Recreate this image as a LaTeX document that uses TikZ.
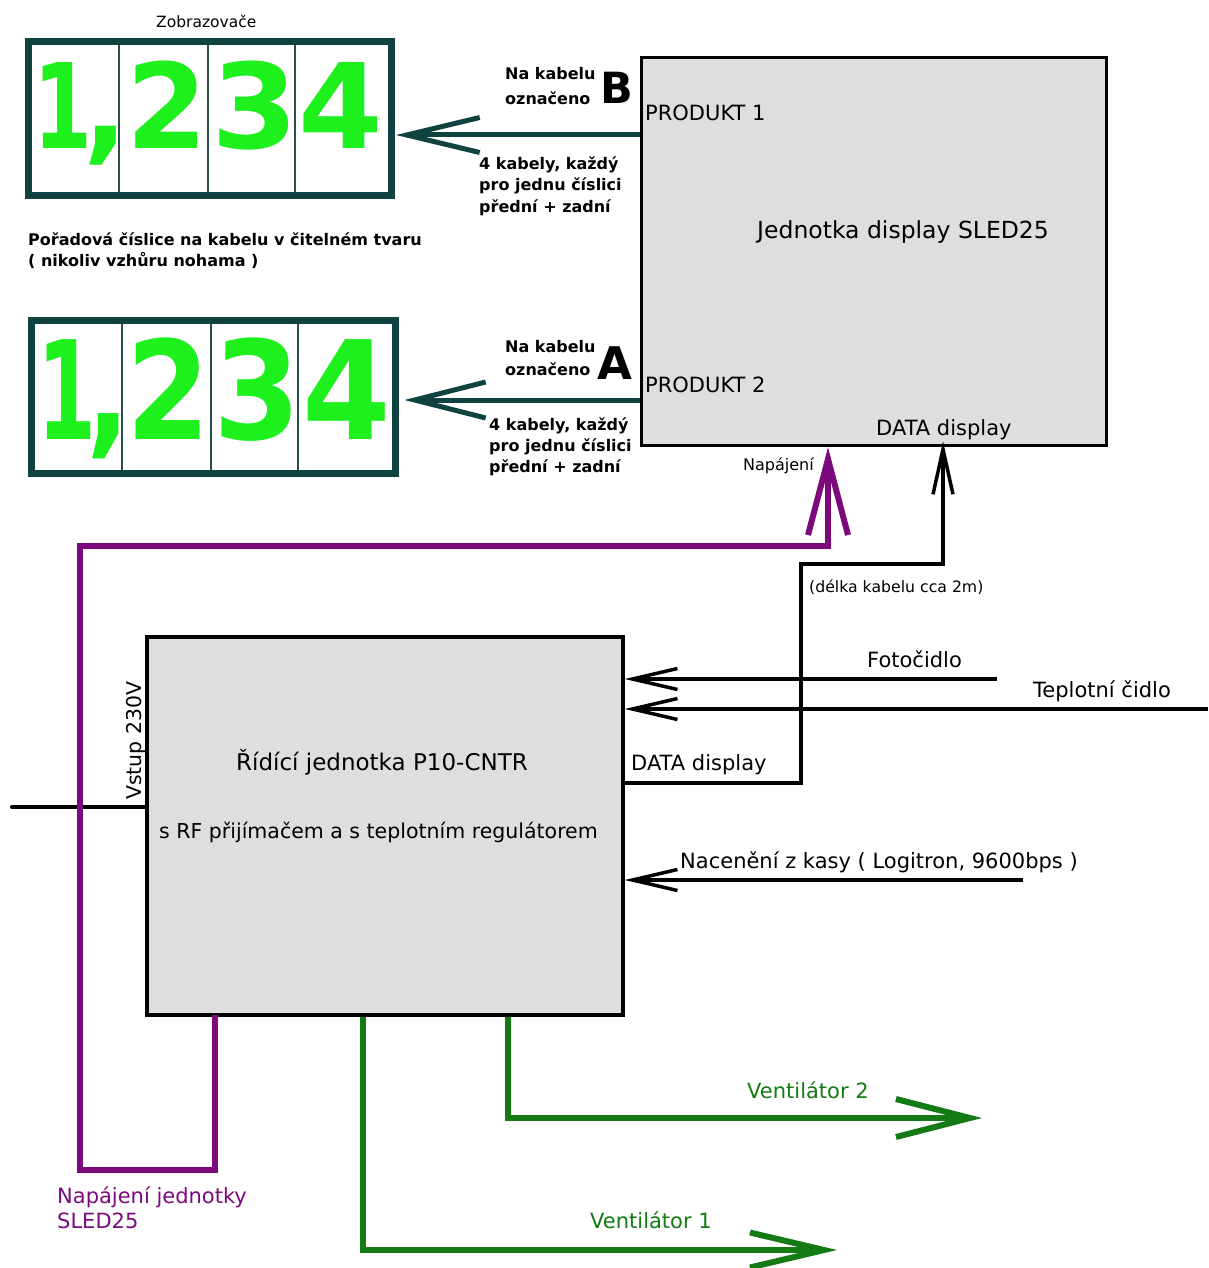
\documentclass[tikz,border=0pt]{standalone}
\usepackage{fontspec}
\setmainfont{DejaVu Sans}
\usepackage{graphicx}
\usetikzlibrary{arrows.meta}
\newcommand\fsz[1]{\fontsize{#1}{#1}\selectfont}
\newcommand\sx[2]{\scalebox{#1}[1]{#2}}
\definecolor{dteal}{RGB}{16,66,66}
\definecolor{lgreen}{RGB}{30,240,30}
\definecolor{purp}{RGB}{125,10,125}
\definecolor{dgreen}{RGB}{20,122,20}
\definecolor{boxgray}{RGB}{222,222,222}
\begin{document}
\begin{tikzpicture}[x=1pt,y=-1pt,
  dispframe/.style={draw=dteal,line width=7pt,fill=white,inner sep=0pt,minimum width=363pt,minimum height=154pt},
  unitbox/.style={draw=black,line width=3.5pt,fill=boxgray,inner sep=0pt},
  divider/.style={draw=dteal!80!gray,line width=1.5pt},
  digA/.style={inner sep=0pt,anchor=base,text=lgreen,font=\bfseries\fsz{118}},
  digB/.style={inner sep=0pt,anchor=base,text=lgreen,font=\bfseries\fsz{137}},
  lbl/.style={inner sep=0pt,anchor=base west,font=\fsz{21}},
  blbl/.style={inner sep=0pt,anchor=base west,font=\bfseries\fsz{16}},
  tealarrow/.style={draw=dteal,line width=5pt},
  purpline/.style={draw=purp,line width=6pt},
  blkline/.style={draw=black,line width=3.5pt},
  grnline/.style={draw=dgreen,line width=6pt}
]
\useasboundingbox (0,0) rectangle (1208,1268);
\fill[white] (0,0) rectangle (1208,1268);

% ---- displays ----
\node[dispframe] (d1) at (210,118.75) {};
\node[dispframe,minimum height=153.5pt,minimum width=363.5pt] (d2) at (213.25,396.75) {};
\draw[divider] (119,45) -- (119,193);
\draw[divider] (208,45) -- (208,193);
\draw[divider] (295,45) -- (295,193);
\draw[divider] (122,323) -- (122,470);
\draw[divider] (211,323) -- (211,470);
\draw[divider] (298,323) -- (298,470);

\node[digA] (a1) at (63,149) {\sx{0.72}{1}};
\node[digA] (ac) at (106,149) {\sx{1.0}{,}};
\node[digA] (a2) at (167,149) {\sx{0.99}{2}};
\node[digA] (a3) at (255,149) {\sx{1.06}{3}};
\node[digA] (a4) at (341,149) {\sx{1.03}{4}};
\node[digB] (b1) at (67,439) {\sx{0.62}{1}};
\node[digB] (bc) at (109,439) {\sx{0.85}{,}};
\node[digB] (b2) at (168,439) {\sx{0.88}{2}};
\node[digB] (b3) at (257,439) {\sx{0.92}{3}};
\node[digB] (b4) at (347,439) {\sx{0.93}{4}};

\node[lbl,font=\fsz{15.5}] (zob) at (156,28) {Zobrazovače};
\node[blbl,font=\bfseries\fsz{16}] (por1) at (28,245) {Pořadová číslice na kabelu v čitelném tvaru};
\node[blbl,font=\bfseries\fsz{16}] (por2) at (28,266) {( nikoliv vzhůru nohama )};

% ---- units ----
\node[unitbox,minimum width=465pt,minimum height=388pt] (sled) at (874,251.5) {};
\node[unitbox,minimum width=476pt,minimum height=378pt] (p10) at (385,826) {};

\node[lbl] (prod1) at (645,121) {PRODUKT 1};
\node[lbl] (prod2) at (645,392) {PRODUKT 2};
\node[lbl,font=\fsz{23.5}] (sledt) at (757,238) {Jednotka display SLED25};
\node[lbl] (datat) at (876,435) {DATA display};

\node[lbl,font=\fsz{23}] (p10t) at (236,770) {Řídící jednotka P10-CNTR};
\node[lbl,font=\fsz{20.5}] (p10s) at (159,838) {s RF přijímačem a s teplotním regulátorem};
\node[lbl] (datap) at (631,770) {DATA display};
\node[lbl,font=\fsz{20.4},rotate=90] (vstup) at (141,800) {Vstup 230V};

% ---- cable labels ----
\node[blbl] (nkB1) at (505,80) {Na kabelu};
\node[blbl] (nkB2) at (505,105) {označeno};
\node[blbl,font=\bfseries\fsz{43}] (lB) at (600,104) {B};
\node[blbl] (kB1) at (479,170) {4 kabely, každý};
\node[blbl] (kB2) at (479,191) {pro jednu číslici};
\node[blbl] (kB3) at (479,212) {přední + zadní};
\node[blbl] (nkA1) at (505,352) {Na kabelu};
\node[blbl] (nkA2) at (505,375) {označeno};
\node[blbl,font=\bfseries\fsz{45}] (lA) at (597,379) {A};
\node[blbl] (kA1) at (489,430) {4 kabely, každý};
\node[blbl] (kA2) at (489,451) {pro jednu číslici};
\node[blbl] (kA3) at (489,472) {přední + zadní};

% ---- coordinates ----
\coordinate (yB) at (0,135);
\coordinate (yA) at (0,400);
\coordinate (pw0) at (215,1170);
\coordinate (pw1) at (80,1170);
\coordinate (pw2) at (828,546);
\coordinate (dt0) at (801,783);
\coordinate (dt1) at (943,564);
\coordinate (foto) at (997,679);
\coordinate (tepl) at (1208,709);
\coordinate (nac) at (1023,880);
\coordinate (v230) at (12,807);
\coordinate (v2) at (982,1118);
\coordinate (v1) at (837,1250);
\coordinate (v2x) at (508,1118);
\coordinate (v1x) at (363,1250);

% ---- display cables ----
\draw[tealarrow,-{Straight Barb[length=73pt,width=35pt]}] (sled.west |- yB) -- ([xshift=1pt]d1.east |- yB);
\draw[tealarrow,-{Straight Barb[length=71pt,width=36pt]}] (sled.west |- yA) -- ([xshift=6pt]d2.east |- yA);

% ---- 230V input ----
\draw[blkline,line width=4pt,line cap=round] (v230) -- (p10.west |- v230);

% ---- power to SLED25 ----
\draw[purpline,-{Straight Barb[length=76pt,width=40pt]}] ([yshift=2pt]p10.south -| pw0) -- (pw0) -- (pw1) -- (pw1 |- pw2) -- (pw2) -- (sled.south -| pw2);
\node[lbl,font=\fsz{16}] (napt) at (743,470) {Napájení};
\node[lbl,text=purp] (nj1) at (57,1203) {Napájení jednotky};
\node[lbl,text=purp] (nj2) at (57,1228) {SLED25};

% ---- data cable ----
\draw[blkline,-{Straight Barb[length=45pt,width=20pt]}] (p10.east |- dt0) -- (dt0) -- (dt0 |- dt1) -- (dt1) -- ([yshift=6pt]sled.south -| dt1);
\node[lbl,font=\fsz{15.7}] (delka) at (809,592) {(délka kabelu cca 2m)};

% ---- sensors ----
\draw[blkline,-{Straight Barb[length=45pt,width=21pt]}] (foto) -- (p10.east |- foto);
\draw[blkline,-{Straight Barb[length=45pt,width=21pt]}] (tepl) -- (p10.east |- tepl);
\draw[blkline,-{Straight Barb[length=45pt,width=21pt]}] (nac) -- (p10.east |- nac);
\node[lbl] (fotot) at (867,667) {Fotočidlo};
\node[lbl] (teplt) at (1033,697) {Teplotní čidlo};
\node[lbl] (nact) at (680,868) {Nacenění z kasy ( Logitron, 9600bps )};

% ---- fans ----
\draw[grnline,-{Straight Barb[length=74pt,width=38pt]}] (p10.south -| v2x) -- (v2x) -- (v2);
\draw[grnline,-{Straight Barb[length=74pt,width=35pt]}] (p10.south -| v1x) -- (v1x) -- (v1);
\node[lbl,text=dgreen] (vt2) at (747,1098) {Ventilátor 2};
\node[lbl,text=dgreen] (vt1) at (590,1228) {Ventilátor 1};
\end{tikzpicture}
\end{document}
